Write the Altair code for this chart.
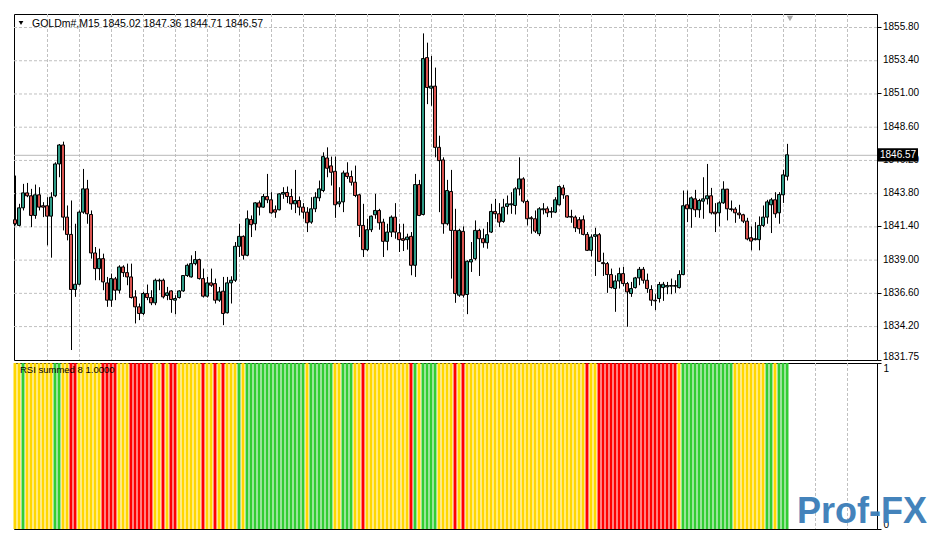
import altair as alt
import pandas as pd

symbol = "GOLDm#,M15"
indicator_name = "RSI summed 8 1.0000"

opens = [1841.88, 1841.47, 1842.74, 1843.82, 1843.61, 1842.19, 1843.68, 1842.89, 1842.89, 1842.14,
         1843.61, 1845.91, 1847.28, 1842.07, 1840.82, 1836.84, 1837.22, 1842.43, 1844.11, 1842.26,
         1839.48, 1838.35, 1839.07, 1837.32, 1836.07, 1837.61, 1836.79, 1838.47, 1838.06, 1837.75,
         1836.31, 1835.59, 1835.11, 1836.55, 1836.26, 1835.88, 1837.46, 1837.51, 1836.41, 1836.74,
         1836.07, 1836.26, 1836.74, 1837.85, 1837.75, 1838.71, 1839.00, 1837.63, 1836.36, 1837.32,
         1837.27, 1836.07, 1836.72, 1835.16, 1837.32, 1837.51, 1839.96, 1840.68, 1839.31, 1841.90,
         1841.59, 1843.10, 1842.79, 1843.56, 1843.32, 1842.60, 1842.60, 1843.73, 1843.85, 1843.56,
         1843.03, 1843.27, 1842.79, 1842.43, 1841.71, 1842.67, 1843.46, 1843.99, 1846.34, 1845.77,
         1845.38, 1843.03, 1843.17, 1845.26, 1845.00, 1844.59, 1843.68, 1841.47, 1839.72, 1841.16,
         1842.24, 1842.55, 1841.71, 1840.32, 1840.99, 1842.07, 1840.94, 1840.51, 1840.44, 1840.68,
         1838.59, 1844.42, 1842.26, 1853.59, 1851.38, 1851.53, 1847.11, 1846.20, 1841.59, 1843.92,
         1841.11, 1836.43, 1841.04, 1836.48, 1838.83, 1839.07, 1841.11, 1840.51, 1840.22, 1840.99,
         1842.48, 1842.31, 1841.76, 1842.84, 1842.96, 1842.91, 1844.11, 1844.83, 1843.20, 1842.02,
         1841.95, 1840.87, 1842.60, 1842.67, 1842.43, 1842.43, 1842.96, 1844.18, 1843.61, 1842.12,
         1842.07, 1841.88, 1841.88, 1840.82, 1839.67, 1840.68, 1840.80, 1838.78, 1838.71, 1837.92,
         1836.91, 1837.46, 1837.99, 1837.27, 1836.55, 1836.98, 1837.68, 1838.30, 1837.51, 1836.84,
         1836.07, 1836.19, 1836.98, 1837.03, 1837.08, 1837.08, 1836.98, 1837.92, 1842.96, 1842.67,
         1843.39, 1842.60, 1843.22, 1843.39, 1843.61, 1842.43, 1842.38, 1843.10, 1844.09, 1842.67,
         1842.65, 1842.36, 1842.24, 1841.78, 1840.58, 1840.44, 1840.44, 1841.47, 1842.07, 1842.96,
         1843.32, 1842.38, 1843.68, 1845.02]
highs = [1845.07, 1843.03, 1844.47, 1844.54, 1844.11, 1844.42, 1844.23, 1843.15, 1843.51, 1843.87,
         1846.03, 1847.35, 1847.52, 1842.91, 1843.27, 1841.59, 1842.55, 1845.55, 1844.76, 1842.55,
         1839.91, 1839.79, 1839.43, 1837.75, 1837.99, 1837.75, 1838.59, 1838.59, 1838.71, 1838.71,
         1836.79, 1835.83, 1836.67, 1837.20, 1836.79, 1837.63, 1837.63, 1837.63, 1837.03, 1836.79,
         1836.43, 1836.79, 1837.87, 1838.71, 1839.31, 1839.62, 1839.07, 1838.35, 1837.75, 1838.35,
         1837.63, 1837.03, 1837.75, 1837.75, 1837.80, 1840.27, 1841.59, 1840.75, 1842.55, 1842.19,
         1843.15, 1843.27, 1843.75, 1845.19, 1843.87, 1842.91, 1843.80, 1844.23, 1844.28, 1844.11,
         1845.48, 1843.56, 1843.08, 1842.79, 1843.51, 1843.87, 1844.71, 1846.75, 1847.11, 1846.44,
         1846.44, 1844.23, 1845.43, 1846.03, 1845.43, 1845.79, 1843.75, 1843.03, 1841.95, 1842.19,
         1843.75, 1842.67, 1841.95, 1841.59, 1842.19, 1843.08, 1841.59, 1841.59, 1840.87, 1840.99,
         1845.19, 1844.76, 1855.34, 1854.67, 1853.71, 1852.87, 1847.95, 1846.39, 1844.76, 1845.48,
         1842.67, 1841.23, 1841.40, 1838.95, 1840.27, 1841.83, 1841.23, 1841.23, 1841.71, 1843.03,
         1843.39, 1843.08, 1843.39, 1843.63, 1843.87, 1844.23, 1846.39, 1844.95, 1843.32, 1842.14,
         1842.55, 1842.79, 1843.08, 1842.84, 1842.79, 1843.51, 1844.35, 1844.40, 1843.63, 1842.60,
         1842.19, 1842.07, 1842.19, 1840.99, 1840.82, 1841.30, 1840.92, 1839.50, 1838.83, 1838.35,
         1837.87, 1838.42, 1838.47, 1837.39, 1837.39, 1837.75, 1838.47, 1838.47, 1837.99, 1837.15,
         1836.50, 1837.39, 1837.39, 1837.39, 1837.63, 1837.51, 1838.23, 1843.99, 1843.99, 1843.56,
         1844.04, 1843.39, 1844.95, 1845.91, 1844.18, 1843.08, 1843.22, 1844.66, 1844.11, 1843.27,
         1842.79, 1842.96, 1842.31, 1842.02, 1841.40, 1841.71, 1842.12, 1842.91, 1843.32, 1843.46,
         1843.87, 1843.87, 1845.48, 1847.36]
lows = [1841.47, 1841.40, 1842.55, 1843.51, 1841.35, 1841.95, 1842.55, 1842.07, 1840.03, 1839.14,
        1843.51, 1844.95, 1841.11, 1840.39, 1832.47, 1836.31, 1837.15, 1842.31, 1841.59, 1839.07,
        1837.51, 1837.51, 1836.79, 1835.59, 1835.59, 1836.07, 1836.55, 1837.75, 1837.15, 1836.19,
        1834.39, 1834.63, 1834.99, 1836.07, 1835.71, 1835.71, 1836.79, 1836.19, 1836.07, 1835.16,
        1835.06, 1836.19, 1836.67, 1837.75, 1837.70, 1838.59, 1837.56, 1836.26, 1836.26, 1837.03,
        1835.83, 1835.95, 1834.27, 1835.11, 1835.83, 1837.39, 1839.19, 1839.00, 1839.24, 1840.63,
        1841.11, 1842.19, 1842.74, 1843.08, 1842.31, 1842.02, 1842.55, 1843.39, 1843.08, 1842.60,
        1842.36, 1842.19, 1841.95, 1840.99, 1841.59, 1842.43, 1843.22, 1843.87, 1844.95, 1844.35,
        1842.02, 1842.79, 1842.43, 1844.83, 1844.35, 1843.51, 1840.63, 1839.19, 1839.62, 1840.99,
        1841.95, 1841.16, 1839.19, 1839.67, 1840.63, 1840.51, 1839.55, 1839.62, 1839.72, 1837.87,
        1837.75, 1842.14, 1842.19, 1850.23, 1850.11, 1846.39, 1842.43, 1840.87, 1841.47, 1837.63,
        1835.88, 1836.31, 1836.26, 1835.06, 1838.11, 1838.95, 1837.82, 1839.86, 1839.79, 1840.92,
        1841.95, 1841.35, 1841.66, 1842.26, 1842.31, 1842.26, 1843.63, 1843.08, 1841.47, 1840.87,
        1840.92, 1840.70, 1842.26, 1842.07, 1842.02, 1842.36, 1842.91, 1843.39, 1842.02, 1841.66,
        1840.99, 1840.87, 1840.75, 1839.62, 1839.24, 1837.82, 1838.83, 1837.82, 1836.60, 1836.91,
        1835.23, 1836.91, 1837.08, 1834.15, 1836.31, 1836.91, 1837.15, 1837.27, 1836.60, 1835.66,
        1835.35, 1835.90, 1836.02, 1836.50, 1836.50, 1836.60, 1836.91, 1837.87, 1841.71, 1841.30,
        1842.07, 1842.02, 1841.95, 1842.98, 1842.26, 1840.99, 1841.40, 1843.03, 1841.83, 1842.48,
        1841.66, 1841.95, 1841.64, 1840.39, 1839.67, 1840.39, 1839.67, 1841.35, 1841.59, 1840.92,
        1842.02, 1841.59, 1843.10, 1844.71]
closes = [1841.59, 1842.74, 1843.82, 1843.61, 1842.19, 1843.68, 1842.79, 1842.79, 1842.14, 1843.51,
          1845.91, 1847.28, 1842.07, 1840.82, 1836.84, 1837.22, 1842.43, 1844.11, 1842.31, 1839.48,
          1838.35, 1839.07, 1837.39, 1836.07, 1837.63, 1836.79, 1838.47, 1838.06, 1837.75, 1836.26,
          1835.59, 1835.11, 1836.55, 1836.26, 1835.88, 1837.51, 1837.51, 1836.31, 1836.60, 1836.12,
          1836.19, 1836.74, 1837.85, 1838.59, 1838.71, 1839.00, 1837.63, 1836.36, 1837.32, 1837.15,
          1836.07, 1836.67, 1835.11, 1837.32, 1837.51, 1839.96, 1840.68, 1839.31, 1841.95, 1841.52,
          1843.10, 1842.79, 1843.56, 1843.32, 1842.38, 1842.43, 1843.75, 1843.85, 1843.56, 1843.03,
          1843.27, 1842.79, 1842.43, 1841.66, 1842.67, 1843.51, 1844.11, 1846.44, 1845.60, 1845.31,
          1842.96, 1843.17, 1845.26, 1845.00, 1844.59, 1843.63, 1841.47, 1839.72, 1841.16, 1842.14,
          1842.55, 1841.66, 1840.32, 1840.99, 1842.07, 1840.99, 1840.44, 1840.39, 1840.63, 1838.59,
          1844.42, 1842.19, 1853.52, 1851.43, 1851.53, 1847.11, 1846.15, 1841.59, 1843.99, 1841.11,
          1836.55, 1841.11, 1836.43, 1838.88, 1839.00, 1841.11, 1840.51, 1840.22, 1840.80, 1842.48,
          1842.31, 1841.71, 1842.79, 1843.03, 1843.03, 1844.11, 1844.83, 1843.22, 1841.95, 1841.95,
          1841.06, 1842.67, 1842.67, 1842.38, 1842.48, 1843.32, 1844.28, 1843.68, 1842.07, 1842.07,
          1841.30, 1841.23, 1840.82, 1839.67, 1840.63, 1840.80, 1838.88, 1838.71, 1837.92, 1836.98,
          1837.46, 1837.99, 1837.27, 1836.67, 1836.91, 1837.68, 1838.30, 1837.51, 1836.91, 1836.07,
          1836.02, 1837.20, 1837.22, 1837.13, 1837.13, 1837.13, 1837.92, 1842.89, 1842.67, 1843.46,
          1842.60, 1843.27, 1843.39, 1843.61, 1842.38, 1842.31, 1843.10, 1844.09, 1842.67, 1842.62,
          1842.38, 1842.24, 1841.78, 1840.49, 1840.34, 1840.51, 1841.47, 1842.07, 1843.17, 1843.32,
          1842.31, 1843.70, 1845.12, 1846.57]

# indicator state per bar: Y = neutral (yellow), G = up (green), R = down (red)
hist_state = list(
    "YYGYYYYYYYGGYYRRYYYYYYRRRRYYYRRRRRRYYRYRRYYYYYYRYYRYRYYYGY"
    "GGGGGGGGGGGGGGGYGGGGGGYYGGGYYRYYYYYYYYYYYRGYGGGGYYYYRYR"
    "YYYYYYYYYYYYYYYYYYYYYYYYYYYYYYRYYRRRRRRRRRRRRRRRRRRRRY"
    "GGGGGGGGGGGGGYYYYYYYYGGYGGG"
)
hist_value = [1.0] * len(hist_state)

price_ticks = [1834.20, 1836.60, 1839.00, 1841.40, 1843.80, 1846.20, 1848.60, 1851.00, 1853.40, 1855.80]
price_min = 1831.75
price_max = 1856.74
grid_bars = list(range(9, 217, 8))

n = len(opens)
bars = list(range(1, n + 1))
df = pd.DataFrame({"bar": bars, "open": opens, "high": highs, "low": lows, "close": closes})
hdf = pd.DataFrame({"bar": bars, "state": hist_state[:n], "value": hist_value[:n]})
tdf = pd.DataFrame({"p": price_ticks})
gdf = pd.DataFrame({"g": grid_bars})
one = pd.DataFrame({"k": [0]})

W = 863
H_TOP = 346
H_BOT = 166
FONT = "Liberation Sans"
BULL = "#2E9A86"
BEAR = "#D9534F"
GRID = "#C0C0C0"

xscale = alt.Scale(domain=[0.75, 216.5], nice=False, zero=False)
yscale = alt.Scale(domain=[price_min, price_max], nice=False, zero=False)
yaxis_top = alt.Axis(orient="right", values=[price_min] + price_ticks, title=None, grid=False,
                     labels=False, ticks=True)

base = alt.Chart(df).transform_calculate(
    x0="datum.bar - 0.375", x1="datum.bar + 0.375",
    dir="datum.close >= datum.open ? 'up' : 'down'"
)

vgrid_top = alt.Chart(gdf).mark_rule(color=GRID, strokeDash=[3, 2], strokeWidth=1, xOffset=0.5).encode(
    x=alt.X("g:Q", scale=xscale, axis=None)
)
hgrid_top = alt.Chart(tdf).mark_rule(color=GRID, strokeDash=[3, 2], strokeWidth=1, yOffset=0.5).encode(
    y=alt.Y("p:Q", scale=yscale, axis=yaxis_top)
)

last_close = closes[-1]
price_line = alt.Chart(one).mark_rule(color="#B8B8B8", strokeWidth=1, yOffset=0.5).encode(
    y=alt.datum(last_close, scale=yscale)
)

wicks = base.mark_rule(color="black", strokeWidth=1, xOffset=0.5).encode(
    x=alt.X("bar:Q", scale=xscale, axis=None),
    y=alt.Y("low:Q", scale=yscale, axis=yaxis_top), y2="high:Q"
)
bodies = base.mark_rect(stroke="black", strokeWidth=1).encode(
    x=alt.X("x0:Q", scale=xscale, axis=None), x2="x1:Q",
    y=alt.Y("open:Q", scale=yscale, axis=yaxis_top), y2="close:Q",
    color=alt.Color("dir:N", scale=alt.Scale(domain=["up", "down"], range=[BULL, BEAR]), legend=None),
)

tick_labels = alt.Chart(tdf).mark_text(align="left", baseline="middle", font=FONT, fontSize=10,
                                       color="black").encode(
    x=alt.value(W + 6), y=alt.Y("p:Q", scale=yscale), text=alt.Text("p:Q", format=".2f")
)
min_label = alt.Chart(one).mark_text(align="left", baseline="alphabetic", font=FONT, fontSize=10,
                                     color="black").encode(
    x=alt.value(W + 6), y=alt.datum(price_min, scale=yscale), text=alt.value(f"{price_min:.2f}")
)

title_str = f"{symbol}  {opens[-1]:.2f} {highs[-1]:.2f} {lows[-1]:.2f} {closes[-1]:.2f}"
title_text = alt.Chart(one).mark_text(align="left", baseline="middle", font=FONT, fontSize=10.5,
                                      color="black").encode(
    x=alt.value(18), y=alt.value(10), text=alt.value(title_str)
)
title_tri = alt.Chart(one).mark_point(shape="triangle-down", filled=True, color="black", size=22,
                                      opacity=1).encode(x=alt.value(7), y=alt.value(9))
shift_tri = alt.Chart(one).mark_point(shape="triangle-down", filled=True, color="#A8A8A8", size=40,
                                      opacity=1).encode(x=alt.value(776), y=alt.value(4.5))

label_box = alt.Chart(one).mark_point(shape="M-1,-0.33L1,-0.33L1,0.33L-1,0.33Z", filled=True,
                                      color="black", size=1600, opacity=1).encode(
    x=alt.value(W + 21), y=alt.datum(last_close, scale=yscale)
)
label_txt = alt.Chart(one).mark_text(align="left", baseline="middle", font=FONT, fontSize=10,
                                     color="white").encode(
    x=alt.value(W + 3), y=alt.datum(last_close, scale=yscale), text=alt.value(f"{last_close:.2f}")
)

top = alt.layer(vgrid_top, hgrid_top, price_line, wicks, bodies, tick_labels, min_label, title_text,
                title_tri, shift_tri, label_box, label_txt).properties(width=W, height=H_TOP)

hscale = alt.Scale(domain=[0, 1], nice=False)
vgrid_bot = alt.Chart(gdf).mark_rule(color=GRID, strokeDash=[3, 2], strokeWidth=1, xOffset=0.5).encode(
    x=alt.X("g:Q", scale=xscale, axis=None)
)
hbase = alt.Chart(hdf).transform_calculate(x0="datum.bar - 0.375", x1="datum.bar + 0.375")
hist = hbase.mark_rect().encode(
    x=alt.X("x0:Q", scale=xscale, axis=None), x2="x1:Q",
    y=alt.Y("value:Q", scale=hscale,
            axis=alt.Axis(orient="right", values=[0, 1], format="d", title=None, grid=False,
                          labelFlush=True, labelOverlap=False)),
    y2=alt.datum(0),
    color=alt.Color("state:N", scale=alt.Scale(domain=["Y", "G", "R"],
                                               range=["#FFD700", "#32CD32", "#FF0000"]), legend=None),
)
ind_text = alt.Chart(one).mark_text(align="left", baseline="middle", font=FONT, fontSize=9.5,
                                    color="black").encode(
    x=alt.value(6), y=alt.value(7), text=alt.value(indicator_name)
)
logo = alt.Chart(one).mark_text(align="right", baseline="bottom", font=FONT, fontSize=36,
                                fontWeight="bold", color="#3A7DB8", opacity=0.95).encode(
    x=alt.value(W + 50), y=alt.value(H_BOT + 2), text=alt.value("Prof-FX")
)

bottom = alt.layer(vgrid_bot, hist, ind_text, logo).properties(width=W, height=H_BOT)

chart = alt.vconcat(top, bottom, spacing=3, bounds="flush").resolve_scale(
    color="independent", x="independent", y="independent"
).properties(
    padding={"left": 4, "top": 5, "right": 0, "bottom": 0},
    background="white",
).configure_view(
    stroke="black", strokeWidth=1
).configure_axis(
    labelFont=FONT, labelFontSize=10, labelColor="black", tickColor="black", tickSize=4,
    domainColor="black", labelPadding=2
)

chart.save("out.html", embed_options={"renderer": "svg", "actions": False})
